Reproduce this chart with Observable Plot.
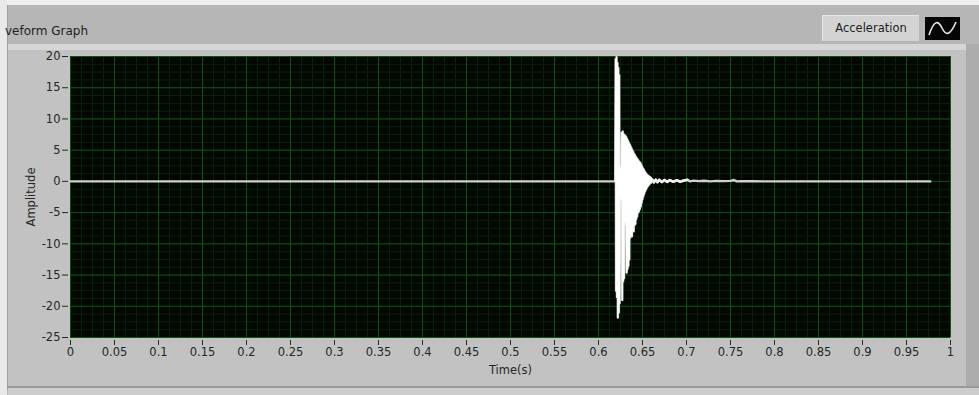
<!DOCTYPE html>
<html>
<head>
<meta charset="utf-8">
<script src="https://cdn.jsdelivr.net/npm/d3@7"></script>
<script src="https://cdn.jsdelivr.net/npm/@observablehq/plot@0.6"></script>
<style>
  body { margin: 0; background: #ffffff; }
  #wrap { position: relative; width: 979px; height: 395px; overflow: hidden; background: #bcbcbc; font-family: "DejaVu Sans", sans-serif; }
  .blk { position: absolute; }
  #chart { position: absolute; left: 0; top: 0; }
  #title { position: absolute; left: 5px; top: 24px; font-size: 12px; color: #1e1e1e; white-space: nowrap; }
  #legend { position: absolute; left: 822px; top: 15px; width: 97px; height: 26px; background: #d3d3d3;
            border-top: 1px solid #e6e6e6; border-left: 1px solid #e6e6e6; box-sizing: border-box;
            font-size: 11.5px; color: #1e1e1e; line-height: 24px; text-align: center; }
  #icon { position: absolute; left: 925px; top: 17px; width: 35px; height: 23px; background: #050505; }
</style>
</head>
<body>
<div id="wrap">
  <div class="blk" style="left:0;top:0;width:979px;height:5px;background:#efefef"></div>
  <div class="blk" style="left:0;top:0;width:7px;height:395px;background:#e9e9e9"></div>
  <div class="blk" style="left:7px;top:5px;width:1px;height:385px;background:#9e9e9e"></div>
  <div class="blk" style="left:8px;top:5px;width:971px;height:39px;background:#b6b6b6"></div>
  <div class="blk" style="left:8px;top:44px;width:958px;height:6px;background:#d6d6d6"></div>
  <div class="blk" style="left:8px;top:50px;width:958px;height:336px;background:#c2c2c2"></div>
  <div class="blk" style="left:966px;top:44px;width:13px;height:346px;background:#acacac"></div>
  <div class="blk" style="left:8px;top:386px;width:971px;height:2px;background:#9a9a9a"></div>
  <div class="blk" style="left:8px;top:388px;width:971px;height:7px;background:#cdcdcd"></div>
  <div id="title">veform Graph</div>
  <div id="legend">Acceleration</div>
  <div id="icon"><svg width="35" height="23"><path d="M4,18 C9,3 13,3 17,11 C21,19 25,19 31,5" fill="none" stroke="#e8e8e8" stroke-width="1.6"/></svg></div>
  <div id="chart"></div>
</div>
<script>
// Tick values and labels
const xTicks = [0, 0.05, 0.1, 0.15, 0.2, 0.25, 0.3, 0.35, 0.4, 0.45, 0.5, 0.55, 0.6, 0.65, 0.7, 0.75, 0.8, 0.85, 0.9, 0.95, 1];
const xTickLabels = ["0", "0.05", "0.1", "0.15", "0.2", "0.25", "0.3", "0.35", "0.4", "0.45", "0.5", "0.55", "0.6", "0.65", "0.7", "0.75", "0.8", "0.85", "0.9", "0.95", "1"];
const yTicks = [20, 15, 10, 5, 0, -5, -10, -15, -20, -25];
const yTickLabels = ["20", "15", "10", "5", "0", "-5", "-10", "-15", "-20", "-25"];

// Flat signal before the impact
const baseTime = [0, 0.6185];
const baseAmp = [0, 0];

// Impact burst
const burstTime = [0.6190,0.6195,0.6200,0.6205,0.6210,0.6215,0.6220,0.6225,0.6230,0.6235,0.6240,0.6245,0.6250,0.6255,0.6260,0.6265,0.6270,0.6275,0.6280,0.6285,0.6290,0.6295,0.6300,0.6305,0.6310,0.6315,0.6320,0.6325,0.6330,0.6335,0.6340,0.6345,0.6350,0.6355,0.6360,0.6365,0.6370,0.6375,0.6380,0.6385,0.6390,0.6395,0.6400,0.6405,0.6410,0.6415,0.6420,0.6425,0.6430,0.6435,0.6440,0.6445,0.6450,0.6455,0.6460,0.6465,0.6470,0.6475,0.6480,0.6485,0.6490,0.6495,0.6500,0.6505,0.6510,0.6515,0.6520,0.6525,0.6530,0.6535,0.6540,0.6545,0.6550,0.6555,0.6560,0.6565,0.6570,0.6575,0.6580,0.6585,0.6590,0.6595,0.6600];
const burstAmp = [0, 19.6, -17.5, 19.9, -18.5, 19.0, -21.8, 18.2, -21.0, 17.0, -19.5, 2.5, -2.5, 2.0, -3.0, 7.8, -19.0, 8.0, -16.0, 7.6,
  -15.5, 7.4, -6.5, 7.3, -7.0, 7.1, -14.6, 6.8, -14.0, 6.5, -13.5, 6.2, -12.5, 5.9, -9.0, 5.6, -8.5, 5.3, -8.8, 5.0,
  -7.8, 4.7, -8.0, 4.4, -7.0, 4.2, -6.8, 3.9, -6.0, 3.7, -5.6, 3.5, -5.0, 3.3, -4.8, 3.1, -4.4, 3.0, -4.0, 2.7,
  -3.4, 2.4, -2.9, 2.1, -2.4, 1.9, -2.0, 1.6, -1.6, 1.4, -1.3, 1.2, -1.0, 1.0, -0.8, 0.9, -0.6, 0.8, -0.4, 0.7,
  -0.3, 0.6, -0.2];

// Decaying tail and flat end
const tailTime = [0.661,0.663,0.665,0.667,0.669,0.672,0.675,0.678,0.681,0.685,0.689,0.693,0.697,0.701,0.704,0.708,0.714,0.720,0.727,0.734,0.742,0.750,0.754,0.757,0.762,0.775,0.79,0.977];
const tailAmp = [0.3,-0.15,0.28,-0.12,0.25,-0.1,0.22,-0.08,0.2,-0.05,0.18,-0.05,0.15,0.25,0.0,0.12,0.05,0.1,0.0,0.08,0.04,0.08,0.22,0.0,0.05,0.03,0,0];

const toRows = (ts, as) => ts.map((t, i) => ({t, a: as[i]}));
const burstRows = toRows(burstTime, burstAmp);
const tailRows = toRows(tailTime, tailAmp);
const allRows = [...toRows(baseTime, baseAmp), ...burstRows, ...tailRows];

const xLabel = new Map(xTicks.map((d, i) => [d, xTickLabels[i]]));
const yLabel = new Map(yTicks.map((d, i) => [d, yTickLabels[i]]));
const minorX = d3.range(0, 1.0001, 0.0125);
const minorY = d3.range(-25, 20.001, 1.25);

const chart = Plot.plot({
  width: 979,
  height: 395,
  marginLeft: 70,
  marginRight: 29,
  marginTop: 56,
  marginBottom: 58,
  style: { background: "transparent", color: "#262626", fontFamily: "DejaVu Sans", fontSize: "11.5px" },
  x: { domain: [0, 1] },
  y: { domain: [-25, 20] },
  marks: [
    Plot.frame({ fill: "#020702" }),
    Plot.ruleX(minorX, { stroke: "#082209", strokeWidth: 1 }),
    Plot.ruleY(minorY, { stroke: "#082209", strokeWidth: 1 }),
    Plot.ruleX(xTicks, { stroke: "#0d5317", strokeWidth: 1 }),
    Plot.ruleY(yTicks, { stroke: "#0d5317", strokeWidth: 1 }),
    Plot.line(allRows, { x: "t", y: "a", stroke: "#cdd2cd", strokeWidth: 2.4 }),
    Plot.line(tailRows.slice(0, 14), { x: "t", y: "a", stroke: "#eeeeee", strokeWidth: 2.6 }),
    Plot.line(burstRows, { x: "t", y: "a", stroke: "#ffffff", strokeWidth: 1.1 }),
    Plot.axisX(xTicks, { tickFormat: d => xLabel.get(d), tickSize: 5, tickPadding: 2, dy: 3, label: null }),
    Plot.axisX({ ticks: [], tickSize: 0, dx: -10, label: "Time(s)", labelAnchor: "center", labelArrow: "none", labelOffset: 36 }),
    Plot.axisY(yTicks, { tickFormat: d => yLabel.get(d), tickSize: 6, tickPadding: 2, dx: -2,
      label: "Amplitude", labelAnchor: "center", labelArrow: "none", labelOffset: 44 })
  ]
});
document.getElementById("chart").appendChild(chart);
</script>
</body>
</html>
